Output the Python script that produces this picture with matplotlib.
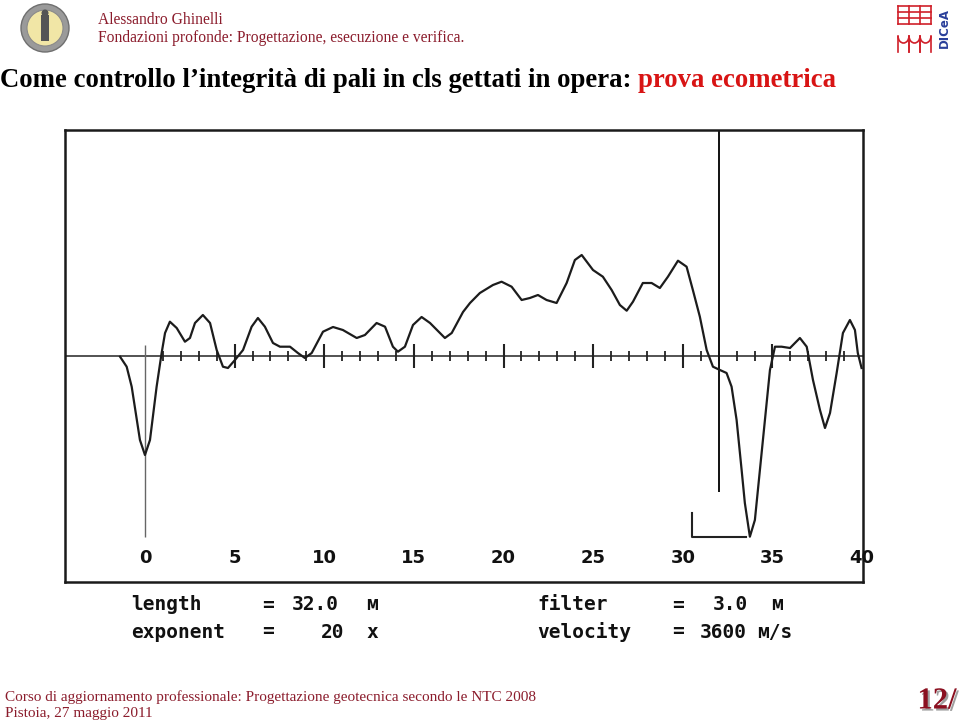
import numpy as np
import matplotlib.pyplot as plt
from matplotlib.patches import Circle, Arc
import matplotlib.patheffects as pe

# echo trace: depth along the pile (m) and signal amplitude (arbitrary units)
depth_m = [-1.39, -1.02, -0.74, -0.28, 0.0, 0.28, 0.65, 0.93, 1.12, 1.39, 1.77, 2.23, 2.51, 2.79,
           3.23, 3.63, 4.0, 4.35, 4.63, 5.02, 5.47, 5.95, 6.30, 6.69, 7.14, 7.53, 8.09, 8.53, 8.92,
           9.30, 9.93, 10.49, 11.04, 11.81, 12.27, 12.92, 13.39, 13.83, 14.11, 14.50, 14.95, 15.43,
           15.90, 16.73, 17.11, 17.74, 18.13, 18.68, 19.41, 19.89, 20.45, 21.01, 21.47, 21.92, 22.40,
           22.96, 23.52, 23.98, 24.36, 24.99, 25.54, 26.03, 26.49, 26.87, 27.22, 27.77, 28.26, 28.72,
           29.17, 29.73, 30.21, 30.56, 30.95, 31.33, 31.68, 32.07, 32.44, 32.72, 33.00, 33.28, 33.46,
           33.74, 34.02, 34.30, 34.58, 34.86, 35.14, 35.51, 35.98, 36.53, 36.91, 37.26, 37.65, 37.93,
           38.21, 38.58, 38.93, 39.32, 39.60, 39.76, 39.97]
amplitude = [-0.7, -10.7, -30.7, -84, -99, -84, -30.7, 3, 23, 34.3, 28, 14.3, 18, 33,
             41, 33, 6, -10.7, -12, -4, 6, 29.3, 38, 29.3, 13, 9.3, 9.3, 3, -2,
             3, 24.3, 29, 26, 18, 21, 33, 29.3, 9.3, 4.3, 9.3, 31, 39,
             33, 18, 23, 44, 53, 63, 71, 74.3, 69.3, 56, 58, 61, 56,
             53, 73, 96, 101, 86, 79.3, 66, 51, 45.3, 54.3, 73, 73, 68,
             79.3, 95.3, 89.3, 66, 39.3, 6, -10.7, -14, -17, -30.7, -64, -114, -147,
             -180.7, -164, -114, -64, -14, 9.3, 9.3, 8, 18, 9.3, -24, -54, -72,
             -57, -17, 23, 36, 26, 3, -12]

scale_labels = [0, 5, 10, 15, 20, 25, 30, 35, 40]
pile_length = 32.0
filter_width = 3.0
exponent = 20
velocity = 3600

dark_red = "#8b1c2c"

fig = plt.figure(figsize=(9.6, 7.25), dpi=100)

# slide background axes in pixel coordinates
bg = fig.add_axes([0, 0, 1, 1])
bg.set_xlim(0, 960)
bg.set_ylim(725, 0)
bg.axis("off")

# left logo (seal)
bg.add_patch(Circle((45, 28), 24, facecolor="#9a9a9a", edgecolor="#6f6f6f", lw=1))
bg.add_patch(Circle((45, 28), 18, facecolor="#f1e6a6", edgecolor="#8a8a8a", lw=0.8))
bg.add_patch(plt.Rectangle((41, 15), 8, 26, facecolor="#555555", edgecolor="none"))
bg.add_patch(Circle((45, 13), 3.5, facecolor="#555555", edgecolor="none"))

# right logo (DICeA)
for x in [898, 909, 920, 931]:
    bg.plot([x, x], [6, 24], color="#d0202a", lw=1.2)
for y in [6, 12, 18, 24]:
    bg.plot([898, 931], [y, y], color="#d0202a", lw=1.2)
for xc in [903.5, 914.5, 925.5]:
    bg.add_patch(Arc((xc, 36), 11, 14, theta1=0, theta2=180, color="#d0202a", lw=1.2))
    bg.plot([xc - 5.5, xc - 5.5], [36, 52], color="#d0202a", lw=1.2)
    bg.plot([xc + 5.5, xc + 5.5], [36, 52], color="#d0202a", lw=1.2)
bg.text(944, 28, "DICeA", rotation=90, color="#2a3f9a", fontsize=8.5, fontweight="bold",
        ha="center", va="center", family="DejaVu Sans")

# header
bg.text(98, 20, "Alessandro Ghinelli", color=dark_red, fontsize=11.2, family="Liberation Serif",
        ha="left", va="center")
bg.text(98, 38, "Fondazioni profonde: Progettazione, esecuzione e verifica.", color=dark_red,
        fontsize=11.2, family="Liberation Serif", ha="left", va="center")

# title
t1 = bg.text(0, 87, "Come controllo l\u2019integrità di pali in cls gettati in opera: ", color="black",
             fontsize=19.3, fontweight="bold", family="Liberation Serif", ha="left", va="baseline")
bg.annotate("prova ecometrica", xy=(1, 0), xycoords=t1, va="bottom", ha="left",
            color="#d81414", fontsize=19.3, fontweight="bold", family="Liberation Serif")

# footer
bg.text(5, 697, "Corso di aggiornamento professionale: Progettazione geotecnica secondo le NTC 2008",
        color=dark_red, fontsize=11, family="Liberation Serif", ha="left", va="center")
bg.text(5, 714, "Pistoia, 27 maggio 2011", color=dark_red, fontsize=11, family="Liberation Serif",
        ha="left", va="center")
bg.text(937, 701, "12/", color="#8b1020", fontsize=22, fontweight="bold", family="Liberation Serif",
        ha="center", va="center",
        path_effects=[pe.withSimplePatchShadow(offset=(1.5, -1.5), shadow_rgbFace="#777777", alpha=0.7)])

# parameters printed under the trace
mono = dict(family="DejaVu Sans Mono", fontweight="bold", fontsize=14, color="#111111", va="center")
bg.text(131, 605, "length", **mono)
bg.text(262, 605, "=", **mono)
bg.text(292, 605, f"{pile_length:.1f}", **mono)
bg.text(366, 605, "м", **mono)
bg.text(131, 632, "exponent", **mono)
bg.text(262, 632, "=", **mono)
bg.text(321, 632, f"{exponent}", **mono)
bg.text(366, 632, "x", **mono)
bg.text(537, 605, "filter", **mono)
bg.text(672, 605, "=", **mono)
bg.text(713, 605, f"{filter_width:.1f}", **mono)
bg.text(771, 605, "м", **mono)
bg.text(537, 632, "velocity", **mono)
bg.text(672, 632, "=", **mono)
bg.text(700, 632, f"{velocity}", **mono)
bg.text(757, 632, "м/s", **mono)

# chart box: x in metres, y in amplitude units
ax = fig.add_axes([65 / 960, (725 - 582) / 725, (863 - 65) / 960, (582 - 130) / 725])
ax.set_xlim(-4.46, 40.05)
ax.set_ylim(-226, 226)
ax.set_xticks([])
ax.set_yticks([])
for s in ax.spines.values():
    s.set_linewidth(1.8)
    s.set_color("#1a1a1a")

# baseline with one tick per metre
ax.axhline(0, color="#444444", lw=1.3)
minor = [m for m in range(1, 40) if m % 5 != 0]
major = [m for m in range(5, 40, 5)]
ax.vlines(minor, -5, 5, color="#222222", lw=1.3)
ax.vlines(major, -12, 12, color="#222222", lw=1.5)

# pile head marker, pile toe marker and filter bracket
ax.vlines(0, -181, 11, color="#666666", lw=1.0)
ax.vlines(pile_length, -136, 226, color="#111111", lw=1.4)
ax.plot([pile_length - filter_width / 2, pile_length - filter_width / 2, pile_length + filter_width / 2],
        [-157, -181, -181], color="#222222", lw=1.5)

ax.plot(depth_m, amplitude, color="#1c1c1c", lw=1.6)

for v in scale_labels:
    ax.text(v, -202, str(v), ha="center", va="center", fontsize=13, fontweight="bold",
            family="DejaVu Sans", color="#111111", clip_on=False)

fig.savefig("out.png", dpi=100)
